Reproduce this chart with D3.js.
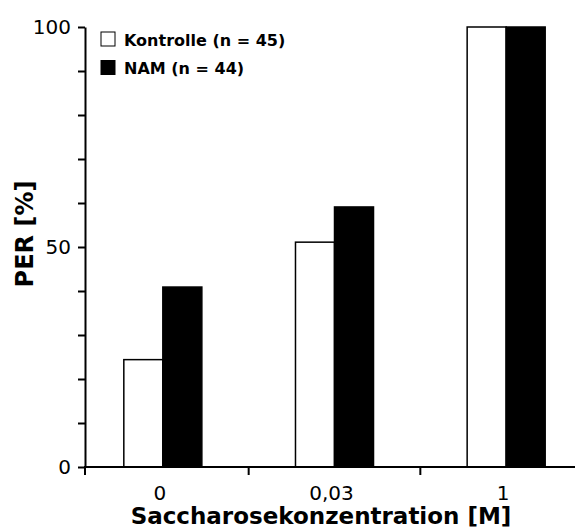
<!DOCTYPE html>
<html>
<head>
<meta charset="utf-8">
<script src="https://cdn.jsdelivr.net/npm/d3@7"></script>
<style>
  body { margin: 0; background: #fff; }
  text { font-family: "DejaVu Sans", Verdana, sans-serif; fill: #000; }
</style>
</head>
<body>
<div id="chart"></div>
<script>
const categories = ['0', '0,03', '1'];
const seriesNames = ['Kontrolle (n = 45)', 'NAM (n = 44)'];
const kontrolle = [24.4, 51.1, 100];
const nam = [40.9, 59.1, 100];
const yTicks = [0, 10, 20, 30, 40, 50, 60, 70, 80, 90, 100];
const yLabels = [0, 50, 100];

const totalWidth = 575;
const totalHeight = 531;
const svg = d3.select('#chart').append('svg')
    .attr('width', totalWidth)
    .attr('height', totalHeight);

const axisX = 85;
const axisBottom = 467;

const scaleY = d3.scaleLinear()
    .domain([0, 100])
    .range([axisBottom, 27]);

const scaleX = d3.scaleBand()
    .domain(categories)
    .range([77, 592])
    .padding(0);

const scaleSeries = d3.scaleBand()
    .domain(seriesNames)
    .range([0, scaleX.bandwidth()])
    .paddingOuter(1.2)
    .paddingInner(0);

const fills = ['#fff', '#000'];
const values = [kontrolle, nam];

// bars
seriesNames.forEach((name, s) => {
    svg.append('g')
        .selectAll('rect')
        .data(categories)
        .enter()
        .append('rect')
        .attr('x', (c) => scaleX(c) + scaleSeries(name))
        .attr('y', (c, i) => scaleY(values[s][i]))
        .attr('width', scaleSeries.bandwidth())
        .attr('height', (c, i) => axisBottom - scaleY(values[s][i]))
        .attr('fill', fills[s])
        .attr('stroke', '#000')
        .attr('stroke-width', 1.5);
});

// y axis
const yAxis = svg.append('g')
    .attr('transform', `translate(${axisX}, 0)`)
    .call(d3.axisLeft(scaleY)
        .tickValues(yTicks)
        .tickSize(7)
        .tickSizeOuter(0)
        .tickPadding(7)
        .tickFormat(d => yLabels.includes(d) ? d : ''));
yAxis.selectAll('path, line').attr('stroke', '#000').attr('stroke-width', 2);
yAxis.selectAll('text')
    .style('font-family', '"DejaVu Sans", sans-serif')
    .style('font-size', '20px');

// x axis
svg.append('line')
    .attr('x1', axisX - 1)
    .attr('x2', totalWidth)
    .attr('y1', axisBottom)
    .attr('y2', axisBottom)
    .attr('stroke', '#000')
    .attr('stroke-width', 2);

const boundaries = [axisX].concat(categories.slice(1).map(c => scaleX(c)));
svg.append('g')
    .selectAll('line')
    .data(boundaries)
    .enter()
    .append('line')
    .attr('x1', d => d)
    .attr('x2', d => d)
    .attr('y1', axisBottom)
    .attr('y2', axisBottom + 8)
    .attr('stroke', '#000')
    .attr('stroke-width', 2);

svg.append('g')
    .selectAll('text')
    .data(categories)
    .enter()
    .append('text')
    .attr('x', c => scaleX(c) + scaleX.bandwidth() / 2 - 3)
    .attr('y', 500)
    .attr('text-anchor', 'middle')
    .style('font-size', '20px')
    .text(c => c);

svg.append('text')
    .attr('x', 321)
    .attr('y', 524)
    .attr('text-anchor', 'middle')
    .style('font-size', '23px')
    .style('font-weight', 'bold')
    .text('Saccharosekonzentration [M]');

svg.append('text')
    .attr('transform', 'translate(33, 234) rotate(-90)')
    .attr('text-anchor', 'middle')
    .style('font-size', '24px')
    .style('font-weight', 'bold')
    .text('PER [%]');

// legend
const legend = svg.append('g')
    .selectAll('g')
    .data(seriesNames)
    .enter()
    .append('g')
    .attr('transform', (d, i) => `translate(101, ${32 + i * 28.5})`);
legend.append('rect')
    .attr('width', 14)
    .attr('height', 14)
    .attr('fill', (d, i) => fills[i])
    .attr('stroke', '#000')
    .attr('stroke-width', 1);
legend.append('text')
    .attr('x', 23)
    .attr('y', 13.5)
    .style('font-size', '16px')
    .style('font-weight', 'bold')
    .text(d => d);
</script>
</body>
</html>
